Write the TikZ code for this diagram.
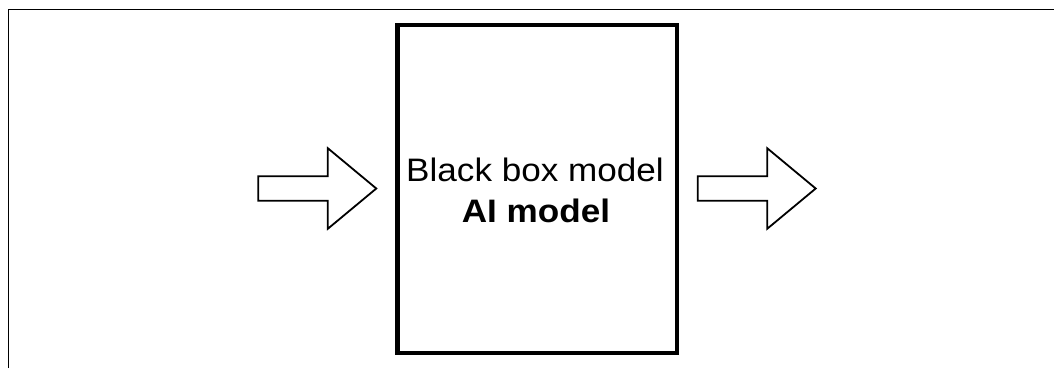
\documentclass[tikz,border=0pt]{standalone}
\usepackage{fontspec}
\newfontfamily\arialfont{Liberation Sans}
\tikzset{frameline/.style={line width=1.8pt, black}}
\tikzset{boxline/.style={draw, line width=4.5pt}}
\tikzset{fatarrow/.style={draw, line width=1.8pt, line join=miter, fill=white}}
\tikzset{boxtext/.style={font=\arialfont\fontsize{32.5}{41}\selectfont, xscale=1.08, inner sep=0pt, anchor=base}}

\begin{document}
\begin{tikzpicture}[x=1pt, y=-1pt]
\useasboundingbox (0,0) rectangle (1054,368);
% outer frame, only top and left edge show
\draw[frameline] (8.5,368) -- (8.5,9.5) -- (1054,9.5);
% the model
\coordinate (boxnw) at (397.5,25);
\coordinate (boxse) at (677,353);
\draw[boxline] (boxnw) rectangle (boxse);
\node[boxtext] (title) at (535,181.7) {Black box model};
\node[boxtext, font=\arialfont\bfseries\fontsize{32.5}{41}\selectfont] (name) at (536,222.7) {AI model};
% input and output arrows
\coordinate (intail) at (258.3,188.5);
\coordinate (outtail) at (697.7,188.5);
\foreach \t in {intail, outtail}
  \draw[fatarrow] (\t) ++(0,-12.3) -- ++(69.5,0) -- ++(0,-28) -- ++(48.5,40.3)
    -- ++(-48.5,40.3) -- ++(0,-28) -- ++(-69.5,0) -- cycle;
\end{tikzpicture}
\end{document}
